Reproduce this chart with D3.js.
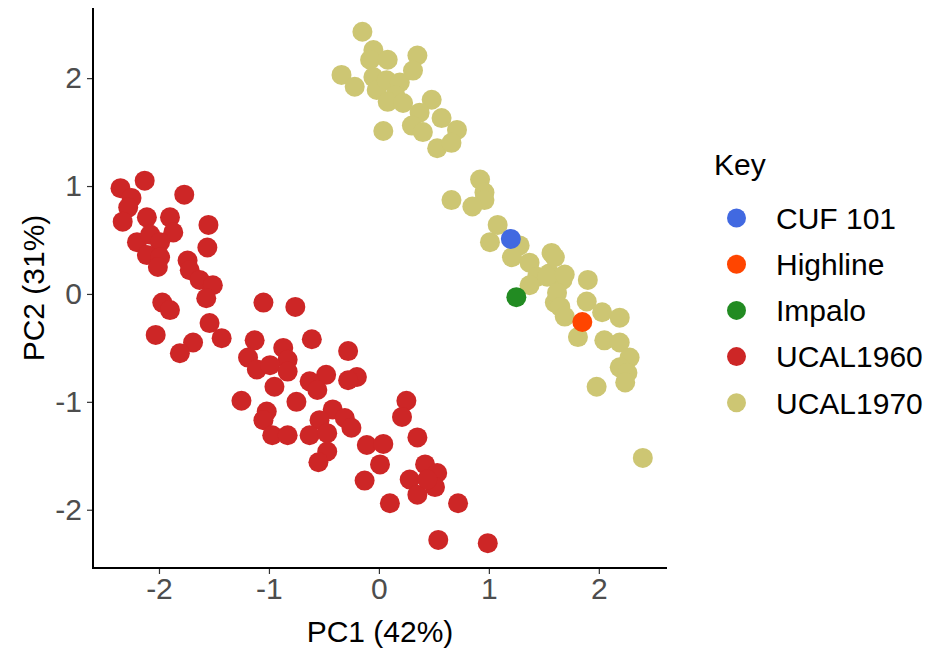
<!DOCTYPE html>
<html>
<head>
<meta charset="utf-8">
<script src="https://cdn.jsdelivr.net/npm/d3@7.9.0/dist/d3.min.js"></script>
<style>
  body { margin: 0; background: #fff; }
  svg { font-family: "Liberation Sans", Arial, sans-serif; }
</style>
</head>
<body>
<svg id="chart" width="938" height="653"></svg>
<script>
// PC scores
const ucal1960X = [-2.35, -2.13, -1.77, -2.25, -2.28, -2.33, -2.11, -1.90, -1.87, -2.20, -2.08, -1.99, -2.11, -1.99, -2.01,
  -1.55, -1.56, -1.74, -1.72, -1.63, -1.51, -1.57, -1.97, -1.90, -1.54, -1.43, -2.03, -1.69, -1.81,
  -1.05, -0.76, -1.13, -0.61, -0.28, -1.19, -0.87, -0.83, -1.11, -0.99, -0.83, -0.95, -0.48, -0.63, -0.20, -0.28,
  -0.56, -0.75, -1.25, -1.02, -0.42, -0.31, -0.25, -0.54, -1.05, -0.97, -0.83, -0.63, -0.47, -0.47, -0.55,
  -0.11, 0.04, 0.01, 0.25, 0.21, 0.35, -0.13, 0.10, 0.42, 0.28, 0.53, 0.51, 0.35, 0.44, 0.72, 0.54, 0.99];
const ucal1960Y = [0.98, 1.05, 0.92, 0.89, 0.80, 0.67, 0.71, 0.71, 0.57, 0.48, 0.55, 0.48, 0.36, 0.34, 0.25,
  0.64, 0.43, 0.31, 0.22, 0.13, 0.08, -0.04, -0.08, -0.15, -0.27, -0.41, -0.38, -0.45, -0.55,
  -0.08, -0.12, -0.43, -0.42, -0.53, -0.59, -0.50, -0.61, -0.70, -0.66, -0.72, -0.86, -0.75, -0.81, -0.77, -0.80,
  -0.89, -1.00, -0.99, -1.09, -1.07, -1.15, -1.24, -1.17, -1.17, -1.31, -1.31, -1.31, -1.29, -1.46, -1.56,
  -1.40, -1.39, -1.58, -0.99, -1.14, -1.33, -1.73, -1.94, -1.58, -1.72, -1.66, -1.79, -1.86, -1.72, -1.94, -2.28, -2.31];

const ucal1970X = [-0.15, -0.05, -0.08, 0.08, 0.35, -0.34, -0.22, -0.05, -0.02, 0.07, 0.19, 0.31, 0.15, 0.08, 0.22,
  0.48, 0.37, 0.30, 0.57, 0.40, 0.71, 0.53, 0.66, 0.04,
  0.92, 0.96, 0.96, 0.66, 0.85, 1.08, 1.01, 1.28, 1.21, 1.37, 1.57, 1.44, 1.37, 1.55, 1.67, 1.60,
  1.60, 1.53, 1.69, 1.90, 1.62, 1.65, 1.69, 1.89, 2.03, 2.19, 1.81, 2.05, 2.19, 2.28, 2.19, 2.26, 2.24, 1.98, 2.40];
const ucal1970Y = [2.43, 2.26, 2.17, 2.17, 2.21, 2.03, 1.92, 2.01, 1.89, 1.98, 1.96, 2.07, 1.84, 1.78, 1.77,
  1.80, 1.68, 1.56, 1.63, 1.50, 1.52, 1.35, 1.40, 1.51,
  1.06, 0.94, 0.87, 0.87, 0.81, 0.64, 0.48, 0.45, 0.34, 0.29, 0.38, 0.16, 0.08, 0.19, 0.13, -0.08,
  0.34, 0.16, 0.18, 0.13, 0.01, -0.12, -0.21, -0.07, -0.17, -0.22, -0.40, -0.43, -0.45, -0.59, -0.68, -0.73, -0.82, -0.86, -1.52];

const cultivars = ["CUF 101", "Highline", "Impalo"];
const cultivarX = [1.20, 1.85, 1.25];
const cultivarY = [0.51, -0.26, -0.03];

const keyLabels = ["CUF 101", "Highline", "Impalo", "UCAL1960", "UCAL1970"];
const keyColors = ["#4169E1", "#FF4500", "#228B22", "#CD2626", "#CDC673"];

const xTicks = [-2, -1, 0, 1, 2];
const yTicks = [-2, -1, 0, 1, 2];

const svg = d3.select('#chart');
const plotLeft = 93, plotRight = 667, plotTop = 8, plotBottom = 568;
const fontSize = '30px';

const x = d3.scaleLinear().domain([-2.6, 2.62]).range([plotLeft, plotRight]);
const y = d3.scaleLinear().domain([-2.54, 2.65]).range([plotBottom, plotTop]);
const color = d3.scaleOrdinal().domain(keyLabels).range(keyColors);

// points: the two groups first, named cultivars on top
const points = [];
ucal1960X.forEach((v, i) => points.push({ x: v, y: ucal1960Y[i], key: "UCAL1960" }));
ucal1970X.forEach((v, i) => points.push({ x: v, y: ucal1970Y[i], key: "UCAL1970" }));
cultivars.forEach((c, i) => points.push({ x: cultivarX[i], y: cultivarY[i], key: c }));

svg.append('g')
  .selectAll('circle')
  .data(points)
  .join('circle')
  .attr('cx', d => x(d.x))
  .attr('cy', d => y(d.y))
  .attr('r', 10)
  .attr('fill', d => color(d.key));

// axes
const xAxis = svg.append('g')
  .attr('transform', `translate(0,${plotBottom})`)
  .call(d3.axisBottom(x).tickValues(xTicks).tickSize(6).tickPadding(4));
const yAxis = svg.append('g')
  .attr('transform', `translate(${plotLeft},0)`)
  .call(d3.axisLeft(y).tickValues(yTicks).tickSize(6).tickPadding(5));

[xAxis, yAxis].forEach(g => {
  g.select('.domain').remove();
  g.selectAll('.tick line').attr('stroke', '#333').attr('stroke-width', 1.2);
  g.selectAll('.tick text')
    .attr('fill', '#4D4D4D')
    .style('font-size', fontSize)
    .style('font-family', '"Liberation Sans", Arial, sans-serif')
    .text(d => String(d)); // plain hyphen, like the original
});

svg.append('path')
  .attr('d', `M${plotLeft},${plotTop}V${plotBottom}H${plotRight}`)
  .attr('fill', 'none')
  .attr('stroke', '#000')
  .attr('stroke-width', 2);

// axis titles
svg.append('text')
  .attr('x', (plotLeft + plotRight) / 2)
  .attr('y', 642)
  .attr('text-anchor', 'middle')
  .style('font-size', fontSize)
  .text('PC1 (42%)');

svg.append('text')
  .attr('transform', `translate(44,${(plotTop + plotBottom) / 2}) rotate(-90)`)
  .attr('text-anchor', 'middle')
  .style('font-size', fontSize)
  .text('PC2 (31%)');

// legend
const legend = svg.append('g').attr('transform', 'translate(714,0)');
legend.append('text')
  .attr('x', 0)
  .attr('y', 175)
  .style('font-size', fontSize)
  .text('Key');

const items = legend.selectAll('g.item')
  .data(keyLabels)
  .join('g')
  .attr('class', 'item')
  .attr('transform', (d, i) => `translate(0,${218 + i * 46.2})`);
items.append('circle')
  .attr('cx', 22.5)
  .attr('r', 9.5)
  .attr('fill', d => color(d));
items.append('text')
  .attr('x', 62)
  .attr('dy', '0.36em')
  .style('font-size', fontSize)
  .text(d => d);
</script>
</body>
</html>
